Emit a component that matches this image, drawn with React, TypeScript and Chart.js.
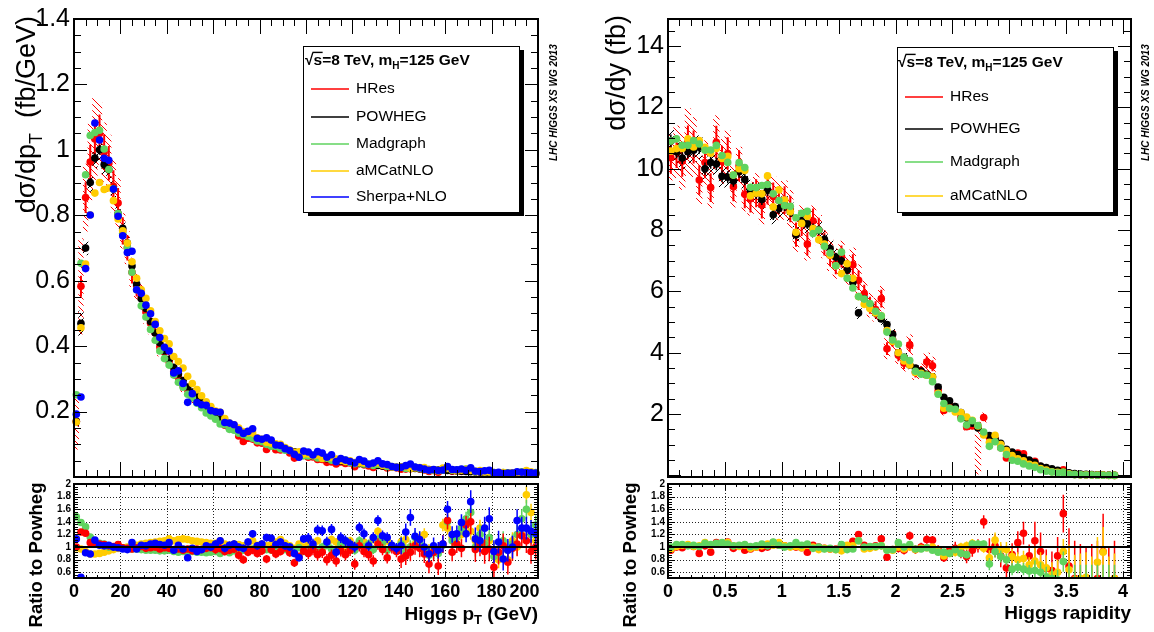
import React, { useEffect, useRef } from 'react';
import { Chart, registerables } from 'chart.js';

Chart.register(...registerables);

const W = 1154;
const H = 632;
const F = '"Liberation Sans", Arial, Helvetica, sans-serif';
const AXIS_W = 74;

// ---------- colours ----------
const C_HRES = '#ff0000';
const C_POWHEG = '#000000';
const C_MAD = '#5fd35f';
const C_AMC = '#ffcc00';
const C_SHERPA = '#0000ff';

// ---------- left panel: Higgs pT (2 GeV bins) ----------
const PT_BIN_WIDTH = 2;
const PT_POWHEG = [
  0.17, 0.47, 0.70, 0.90, 0.975, 1.00, 0.955, 0.94, 0.88, 0.805,
  0.76, 0.715, 0.645, 0.59, 0.545, 0.515, 0.475, 0.44, 0.41, 0.385,
  0.36, 0.335, 0.315, 0.295, 0.275, 0.26, 0.245, 0.23, 0.215, 0.203,
  0.19, 0.18, 0.17, 0.16, 0.152, 0.144, 0.136, 0.129, 0.122, 0.116,
  0.11, 0.104, 0.099, 0.094, 0.089, 0.085, 0.081, 0.077, 0.073, 0.07,
  0.067, 0.064, 0.061, 0.058, 0.056, 0.053, 0.051, 0.049, 0.047, 0.045,
  0.043, 0.041, 0.04, 0.038, 0.037, 0.035, 0.034, 0.033, 0.031, 0.03,
  0.029, 0.028, 0.027, 0.026, 0.025, 0.024, 0.023, 0.022, 0.021, 0.0205,
  0.02, 0.019, 0.0183, 0.0176, 0.017, 0.0163, 0.0157, 0.0151, 0.0146, 0.014,
  0.0135, 0.013, 0.0126, 0.0122, 0.0118, 0.0114, 0.011, 0.0106, 0.0103, 0.01,
];
const PT_RATIO_HRES = [
  1.0, 1.24, 1.22, 1.07, 1.06, 1.05, 1.04, 1.02, 1.01, 1.04,
  0.99, 0.98, 0.97, 0.99, 1.01, 0.98, 0.99, 1.0, 0.97, 0.99,
  0.98, 0.96, 0.97, 0.95, 0.97, 0.94, 0.97, 0.96, 0.98, 0.99,
  0.96, 0.98, 0.93, 0.95, 0.97, 0.87, 0.80, 0.92, 0.95, 0.90,
  0.94, 0.81, 0.96, 0.89, 0.93, 0.99, 0.91, 0.75, 0.85, 0.94,
  0.90, 0.96, 0.88, 0.92, 0.80, 0.87, 0.78, 0.94, 0.88, 0.95,
  0.73, 1.02, 0.93, 0.88, 0.78, 1.05, 0.96, 0.83, 0.99, 0.93,
  0.81, 0.86, 0.92, 1.02, 0.98, 0.89, 0.73, 0.92, 0.70, 1.05,
  1.42, 0.92, 1.05, 0.98, 1.35, 1.40, 0.96, 1.05, 0.93, 0.97,
  0.68, 0.92, 1.02, 0.76, 0.98, 1.05, 1.18, 1.10, 0.93, 1.0,
];
const PT_RATIO_MADGRAPH = [
  1.48, 1.39, 1.32, 1.16, 1.08, 1.06, 1.05, 1.0, 1.0, 1.0,
  0.98, 0.98, 0.97, 0.97, 0.96, 0.95, 0.95, 0.95, 0.94, 0.94,
  0.95, 0.93, 0.92, 0.93, 0.92, 0.93, 0.92, 0.92, 0.91, 0.92,
  0.93, 0.90, 0.94, 0.91, 0.94, 0.93, 0.95, 0.96, 0.97, 0.95,
  0.98, 0.96, 0.95, 0.99, 0.97, 0.96, 1.0, 0.95, 0.99, 0.93,
  0.96, 1.02, 0.95, 1.0, 1.03, 0.97, 0.95, 1.05, 1.1, 0.98,
  0.95, 1.1, 1.0, 1.05, 0.96, 1.12, 1.08, 0.95, 1.02, 0.97,
  1.05, 0.93, 1.0, 1.15, 1.05, 0.96, 0.87, 0.92, 0.9, 1.03,
  1.4, 1.1, 1.15, 1.3, 1.45, 1.55, 1.0, 1.2, 1.05, 1.15,
  0.85, 0.9, 1.1, 0.95, 1.05, 1.2, 1.45, 1.6, 1.2, 1.35,
];
const PT_RATIO_AMCATNLO = [
  0.99, 0.97, 0.93, 0.89, 0.89, 0.90, 0.92, 0.94, 0.96, 0.98,
  0.99, 1.0, 1.02, 1.03, 1.05, 1.06, 1.07, 1.08, 1.09, 1.1,
  1.13, 1.1, 1.12, 1.13, 1.12, 1.1, 1.09, 1.08, 1.07, 1.06,
  1.06, 1.1, 1.05, 1.03, 1.05, 1.04, 1.02, 1.05, 1.1, 1.03,
  1.05, 1.02, 1.04, 1.08, 1.12, 1.06, 1.02, 0.98, 1.05, 1.0,
  1.05, 1.02, 1.1, 0.98, 1.06, 1.12, 1.08, 1.04, 1.0, 1.1,
  1.02, 1.04, 1.08, 1.0, 1.12, 1.25, 1.05, 1.1, 1.0, 0.98,
  1.08, 1.12, 1.0, 1.05, 1.15, 1.2, 0.95, 0.98, 0.95, 1.35,
  1.3, 1.15, 1.05, 1.2, 1.4, 1.25, 1.1, 1.3, 1.05, 1.1,
  0.95, 0.8, 1.05, 0.8, 1.1, 1.0, 1.2, 1.83, 1.55, 1.1,
];
const PT_RATIO_SHERPA = [
  1.13, 0.52, 0.91, 0.89, 1.11, 1.03, 1.02, 1.03, 1.0, 0.99,
  0.97, 0.96, 1.07, 0.97, 1.03, 1.02, 1.05, 1.06, 1.04, 1.03,
  1.07, 0.95, 1.03, 0.97, 0.83, 0.98, 0.93, 0.96, 1.02, 1.0,
  1.05, 1.1, 0.98, 1.03, 1.05, 1.0, 0.98, 1.08, 1.21, 1.02,
  1.05, 1.15, 1.14, 1.04, 1.08, 1.02, 1.0, 0.9, 0.83, 1.13,
  1.14, 1.05, 1.27, 1.26, 1.08, 1.28, 0.92, 1.15, 1.1, 1.05,
  1.0, 1.31, 1.21, 1.02, 1.15, 1.42, 1.18, 1.15, 1.03, 0.98,
  1.02, 1.24, 1.47, 1.17, 1.12, 1.0, 0.89, 1.02, 0.95, 1.05,
  1.6, 1.2, 1.21, 1.39, 1.21, 1.72, 1.13, 1.1, 1.3, 1.45,
  0.93, 1.08, 0.81, 0.95, 1.0, 1.42, 1.3, 1.3, 1.25, 1.22,
];
// relative uncertainties as [upper edge, value] steps
const PT_HRES_BAND = [[2, 0.5], [4, 0.25], [10, 0.12], [20, 0.09], [200, 0.07]];
const PT_POWHEG_BAND = [[4, 0.08], [20, 0.03], [200, 0.025]];
const PT_HRES_STAT = [[30, 0.055], [200, 0.05]];
const PT_POWHEG_STAT = [[200, 0.015]];
const PT_RATIO_STAT = [[20, 0.03], [60, 0.03], [100, 0.05], [140, 0.07], [170, 0.11], [200, 0.15]];

// ---------- right panel: Higgs rapidity (0.05 bins) ----------
const RAP_BIN_WIDTH = 0.05;
const RAP_POWHEG = [
  10.9, 10.55, 10.35, 10.55, 10.6, 10.7, 10.0, 10.2, 10.15, 9.75,
  9.72, 9.6, 9.9, 9.65, 9.3, 9.2, 9.0, 9.3, 8.5, 8.7,
  8.8, 8.6, 7.85, 8.3, 8.2, 8.05, 8.0, 7.7, 7.4, 7.12,
  7.0, 6.7, 6.3, 5.3, 5.75, 5.55, 5.3, 5.1, 4.92, 4.6,
  4.0, 3.85, 3.6, 3.5, 3.4, 3.3, 3.22, 2.88, 2.55, 2.43,
  2.25, 2.05, 1.87, 1.7, 1.55, 1.35, 1.3, 1.18, 1.05, 0.85,
  0.76, 0.68, 0.58, 0.5, 0.42, 0.31, 0.26, 0.22, 0.17, 0.12,
  0.09, 0.065, 0.05, 0.04, 0.03, 0.02, 0.015, 0.01, 0.005,
];
const RAP_RATIO_HRES = [
  0.95, 1.0, 0.99, 1.03, 1.01, 0.9, 1.02, 0.92, 1.07, 1.05,
  1.08, 0.98, 1.02, 0.95, 0.97, 1.0, 0.98, 1.0, 1.07, 1.03,
  1.02, 1.01, 1.0, 0.99, 0.92, 1.03, 1.0, 0.98, 0.97, 0.97,
  1.02, 1.0, 1.09, 1.2, 1.03, 1.0, 1.02, 1.13, 0.84, 0.96,
  0.98, 0.95, 1.18, 0.96, 1.0, 1.12, 1.11, 0.96, 0.83, 0.95,
  0.98, 0.93, 0.85, 0.95, 1.02, 1.4, 0.96, 1.02, 0.86, 0.67,
  0.88, 1.07, 1.22, 0.86, 1.1, 0.93, 0.66, 0.63, 0.86, 1.53,
  0.7, 0.5, 0.45, 0.4, 0.45, 0.5, 0.93, 0.4, 0.5,
];
const RAP_RATIO_MADGRAPH = [
  1.0, 1.04, 1.04, 1.02, 1.03, 1.01, 1.06, 1.04, 1.06, 1.07,
  1.05, 1.02, 1.03, 1.04, 1.01, 1.02, 1.05, 1.02, 1.08, 1.03,
  1.0, 1.02, 1.07, 1.03, 1.05, 0.98, 1.0, 0.97, 0.98, 0.96,
  1.04, 0.96, 0.97, 1.1, 1.0, 1.01, 1.01, 1.02, 0.95, 0.96,
  1.07, 1.0, 1.04, 0.97, 0.97, 0.99, 0.95, 0.92, 0.92, 0.9,
  0.96, 0.9, 0.88, 1.05, 1.05, 1.05, 0.73, 0.93, 0.85, 0.8,
  0.65, 0.68, 0.65, 0.62, 0.63, 0.6, 0.53, 0.5, 0.48, 0.77,
  0.42, 0.4, 0.4, 0.4, 0.4, 0.4, 0.4, 0.4, 0.4,
];
const RAP_RATIO_AMCATNLO = [
  0.97, 1.01, 1.03, 1.04, 1.01, 1.02, 1.07, 1.03, 1.05, 1.06,
  1.07, 1.02, 1.01, 1.03, 0.98, 1.0, 1.02, 1.05, 1.03, 1.07,
  1.02, 1.0, 1.01, 0.99, 1.03, 1.0, 0.96, 0.98, 0.97, 0.96,
  0.94, 1.03, 1.02, 1.1, 0.97, 0.98, 1.0, 1.02, 0.96, 0.95,
  1.0, 0.97, 1.0, 0.96, 0.98, 0.99, 1.0, 0.93, 0.86, 0.9,
  0.92, 1.0, 1.02, 1.06, 1.04, 0.98, 0.83, 1.11, 0.96, 0.96,
  0.85, 0.8, 0.82, 0.72, 0.78, 0.72, 0.67, 0.56, 0.6, 0.93,
  0.64, 0.48, 0.5, 0.52, 0.45, 0.76, 0.92, 0.45, 0.5,
];
const RAP_HRES_BAND_UP = [
  0.07, 0.08, 0.09, 0.1, 0.09, 0.08, 0.07, 0.07, 0.08, 0.07,
  0.07, 0.07, 0.06, 0.06, 0.06, 0.07, 0.07, 0.06, 0.07, 0.07,
  0.07, 0.07, 0.07, 0.07, 0.07, 0.06, 0.06, 0.06, 0.07, 0.07,
  0.07, 0.07, 0.08, 0.08, 0.07, 0.07, 0.07, 0.07, 0.08, 0.07,
  0.07, 0.07, 0.08, 0.07, 0.07, 0.08, 0.08, 0.07, 0.07, 0.07,
  0.07, 0.07, 0.07, 0.07, 0.1, 0.08, 0.07, 0.08, 0.08, 0.08,
  0.08, 0.08, 0.1, 0.1, 0.1, 0.1, 0.1, 0.1, 0.1, 0.12,
  0.12, 0.12, 0.12, 0.15, 0.15, 0.15, 0.15, 0.15, 0.15,
];
const RAP_HRES_BAND_DN = [
  0.07, 0.08, 0.09, 0.1, 0.09, 0.08, 0.07, 0.07, 0.08, 0.07,
  0.07, 0.07, 0.06, 0.06, 0.06, 0.07, 0.07, 0.06, 0.07, 0.07,
  0.07, 0.07, 0.07, 0.07, 0.07, 0.06, 0.06, 0.06, 0.07, 0.07,
  0.07, 0.07, 0.08, 0.08, 0.07, 0.07, 0.07, 0.07, 0.08, 0.07,
  0.07, 0.07, 0.08, 0.07, 0.07, 0.08, 0.08, 0.07, 0.07, 0.07,
  0.07, 0.07, 0.07, 0.07, 0.97, 0.08, 0.07, 0.08, 0.08, 0.08,
  0.08, 0.08, 0.1, 0.1, 0.1, 0.1, 0.1, 0.1, 0.1, 0.12,
  0.12, 0.12, 0.12, 0.15, 0.15, 0.15, 0.15, 0.15, 0.15,
];
const RAP_POWHEG_BAND = [[4.1, 0.035]];
const RAP_HRES_STAT = [[4.1, 0.05]];
const RAP_POWHEG_STAT = [[4.1, 0.02]];
const RAP_RATIO_STAT = [[1.5, 0.02], [2.0, 0.03], [2.5, 0.045], [2.8, 0.07], [3.2, 0.12], [3.5, 0.2], [4.1, 0.4]];

// ---------- ticks ----------
const PT_X_TICKS = [0, 20, 40, 60, 80, 100, 120, 140, 160, 180, 200];
const PT_MAIN_Y_TICKS = [0.2, 0.4, 0.6, 0.8, 1, 1.2, 1.4];
const RAP_X_TICKS = [0, 0.5, 1, 1.5, 2, 2.5, 3, 3.5, 4];
const RAP_MAIN_Y_TICKS = [2, 4, 6, 8, 10, 12, 14];
const RATIO_Y_TICKS = [0.6, 0.8, 1, 1.2, 1.4, 1.6, 1.8, 2];

// ---------- layout ----------
const AREA_PT_MAIN = { left: 74, right: 538, top: 15, bottom: 477 };
const AREA_PT_RATIO = { left: 74, right: 538, top: 484, bottom: 578 };
const AREA_RAP_MAIN = { left: 668, right: 1131, top: 14, bottom: 477 };
const AREA_RAP_RATIO = { left: 668, right: 1131, top: 484, bottom: 578 };

// ---------- helpers ----------
function stepVal(table: number[][], x: number) {
  for (const [edge, v] of table) if (x <= edge) return v;
  return table[table.length - 1][1];
}
const fmt = (v: number) => String(Math.round(v * 100) / 100);

type Part = { t: string; f: string; dy?: number; over?: boolean };
type TextItem = { parts: Part[]; x: number; y: number; align: 'left' | 'right' | 'center'; rot?: boolean };

function drawParts(ctx: CanvasRenderingContext2D, item: TextItem) {
  ctx.save();
  ctx.translate(item.x, item.y);
  if (item.rot) ctx.rotate(-Math.PI / 2);
  ctx.fillStyle = '#000';
  ctx.textAlign = 'left';
  ctx.textBaseline = 'alphabetic';
  let total = 0;
  for (const p of item.parts) {
    ctx.font = p.f;
    total += ctx.measureText(p.t).width;
  }
  let cx = item.align === 'right' ? -total : item.align === 'center' ? -total / 2 : 0;
  for (const p of item.parts) {
    ctx.font = p.f;
    const w = ctx.measureText(p.t).width;
    ctx.fillText(p.t, cx, p.dy || 0);
    if (p.over) {
      const m = ctx.measureText('H');
      const top = -m.actualBoundingBoxAscent - 2;
      ctx.fillRect(cx - 1, top - 1.3, w + 1.5, 1.4);
    }
    cx += w;
  }
  ctx.restore();
}

function hatch(color: string, dir: 'back' | 'fwd') {
  const s = 6;
  const c = document.createElement('canvas');
  c.width = s;
  c.height = s;
  const g = c.getContext('2d')!;
  g.strokeStyle = color;
  g.lineWidth = 1;
  g.beginPath();
  for (let k = -1; k <= 1; k++) {
    if (dir === 'back') {
      g.moveTo(0, k * s);
      g.lineTo(s, s + k * s);
    } else {
      g.moveTo(0, s + k * s);
      g.lineTo(s, k * s);
    }
  }
  g.stroke();
  return g.createPattern(c, 'repeat')!;
}

// ---------- ROOT-like frame / ticks / texts plugin ----------
const rootStyle = {
  id: 'rootStyle',
  beforeDatasetsDraw(chart: any, _a: any, o: any) {
    if (!o || !o.grid) return;
    const ctx = chart.ctx;
    const { left, right, top, bottom } = chart.chartArea;
    const xs = chart.scales.x;
    const ys = chart.scales.y;
    ctx.save();
    ctx.strokeStyle = '#222';
    ctx.lineWidth = 1;
    ctx.setLineDash([1, 2]);
    ctx.beginPath();
    for (const v of o.xMajor) {
      const px = Math.round(xs.getPixelForValue(v)) + 0.5;
      if (px > left + 2 && px < right - 2) {
        ctx.moveTo(px, top);
        ctx.lineTo(px, bottom);
      }
    }
    for (const v of o.yMajor) {
      const py = Math.round(ys.getPixelForValue(v)) + 0.5;
      if (py > top + 2 && py < bottom - 2) {
        ctx.moveTo(left, py);
        ctx.lineTo(right, py);
      }
    }
    ctx.stroke();
    ctx.restore();
  },
  beforeDatasetDraw(chart: any, args: any) {
    const ds = chart.data.datasets[args.index];
    if (!ds.errors) return;
    const ctx = chart.ctx;
    const { left, right, top, bottom } = chart.chartArea;
    const xs = chart.scales.x;
    const ys = chart.scales.y;
    ctx.save();
    ctx.beginPath();
    ctx.rect(left, top, right - left, bottom - top);
    ctx.clip();
    ctx.strokeStyle = ds.borderColor;
    ctx.lineWidth = ds.errWidth || 1.5;
    ctx.beginPath();
    ds.data.forEach((pt: any, i: number) => {
      const e = ds.errors[i];
      if (!e) return;
      const px = xs.getPixelForValue(pt.x);
      ctx.moveTo(px, ys.getPixelForValue(pt.y - e));
      ctx.lineTo(px, ys.getPixelForValue(pt.y + e));
    });
    ctx.stroke();
    ctx.restore();
  },
  afterDatasetsDraw(chart: any, _a: any, o: any) {
    if (!o) return;
    const ctx = chart.ctx;
    const { left, right, top, bottom } = chart.chartArea;
    const xs = chart.scales.x;
    const ys = chart.scales.y;
    ctx.save();
    if (o.refLine != null) {
      const py = ys.getPixelForValue(o.refLine);
      ctx.strokeStyle = '#000';
      ctx.lineWidth = 2;
      ctx.beginPath();
      ctx.moveTo(left, py);
      ctx.lineTo(right, py);
      ctx.stroke();
    }
    ctx.strokeStyle = '#000';
    ctx.lineWidth = 1;
    ctx.beginPath();
    const xTick = (v: number, len: number) => {
      const px = Math.round(xs.getPixelForValue(v)) + 0.5;
      if (px < left - 0.5 || px > right + 0.5) return;
      ctx.moveTo(px, bottom);
      ctx.lineTo(px, bottom - len);
      ctx.moveTo(px, top);
      ctx.lineTo(px, top + len);
    };
    const yTick = (v: number, len: number) => {
      const py = Math.round(ys.getPixelForValue(v)) + 0.5;
      if (py < top - 0.5 || py > bottom + 0.5) return;
      ctx.moveTo(left, py);
      ctx.lineTo(left + len, py);
      ctx.moveTo(right, py);
      ctx.lineTo(right - len, py);
    };
    const minors = (min: number, max: number, step: number, fn: (v: number) => void) => {
      const n0 = Math.ceil(min / step - 1e-6);
      const n1 = Math.floor(max / step + 1e-6);
      for (let n = n0; n <= n1; n++) fn(n * step);
    };
    minors(xs.min, xs.max, o.xMinor, (v) => xTick(v, o.xLen[1]));
    o.xMajor.forEach((v: number) => xTick(v, o.xLen[0]));
    minors(ys.min, ys.max, o.yMinor, (v) => yTick(v, o.yLen[1]));
    o.yMajor.forEach((v: number) => yTick(v, o.yLen[0]));
    ctx.stroke();
    ctx.lineWidth = 2;
    ctx.strokeRect(left, top, right - left, bottom - top);
    ctx.restore();
  },
  afterDraw(chart: any, _a: any, o: any) {
    if (!o) return;
    const ctx = chart.ctx;
    (o.texts || []).forEach((t: TextItem) => drawParts(ctx, t));
    const L = o.legend;
    if (L) {
      const [x, y, w, h] = L.box;
      ctx.save();
      ctx.fillStyle = '#000';
      ctx.fillRect(x + 5, y + 4, w, h);
      ctx.fillStyle = '#fff';
      ctx.fillRect(x, y, w, h);
      ctx.strokeStyle = '#000';
      ctx.lineWidth = 1;
      ctx.strokeRect(x + 0.5, y + 0.5, w, h);
      drawParts(ctx, L.header);
      const items = chart.data.datasets
        .filter((d: any) => d.legendRow != null)
        .sort((a: any, b: any) => a.legendRow - b.legendRow);
      items.forEach((d: any, i: number) => {
        const ry = L.rows[i];
        ctx.strokeStyle = d.borderColor;
        ctx.lineWidth = 1.5;
        ctx.beginPath();
        ctx.moveTo(L.lineX[0], ry);
        ctx.lineTo(L.lineX[1], ry);
        ctx.stroke();
        ctx.fillStyle = '#000';
        ctx.font = L.font;
        ctx.textAlign = 'left';
        ctx.textBaseline = 'middle';
        ctx.fillText(d.label, L.textX, ry);
      });
      ctx.restore();
    }
  },
};

// ---------- chart config builder ----------
function buildConfig(o: any) {
  const a = o.area;
  return {
    type: 'scatter',
    data: { datasets: o.datasets },
    options: {
      responsive: false,
      animation: false,
      events: [],
      layout: {
        padding: {
          left: a.left - AXIS_W,
          right: W - a.right,
          top: a.top,
          bottom: o.showX ? 0 : H - a.bottom,
        },
      },
      plugins: { legend: { display: false }, tooltip: { enabled: false }, rootStyle: o.style },
      scales: {
        x: {
          type: 'linear',
          min: o.xMin,
          max: o.xMax,
          offset: false,
          display: o.showX,
          grid: { display: false, drawTicks: false, offset: false },
          border: { display: false },
          afterBuildTicks: (s: any) => {
            s.ticks = o.xTicks.map((v: number) => ({ value: v }));
          },
          ticks: {
            font: o.xFont,
            color: '#000',
            padding: o.xPad || 0,
            autoSkip: false,
            maxRotation: 0,
            // the last label is pulled inside the frame, as ROOT does at the pad edge
            callback: (v: number) => (o.xPullLast && v === o.xMax_label ? fmt(v) + '\u2002\u2002\u2002' : fmt(v)),
          },
          afterFit: (s: any) => {
            s.height = o.showX ? H - a.bottom : 0;
          },
        },
        y: {
          type: 'linear',
          min: o.yMin,
          max: o.yMax,
          grid: { display: false, drawTicks: false },
          border: { display: false },
          afterBuildTicks: (s: any) => {
            s.ticks = o.yTicks.map((v: number) => ({ value: v }));
          },
          ticks: {
            font: o.yFont,
            color: '#000',
            padding: o.yPad,
            autoSkip: false,
            callback: (v: number) => fmt(v),
          },
          afterFit: (s: any) => {
            s.width = AXIS_W;
          },
        },
      },
    },
    plugins: [rootStyle],
  };
}

function pointSet(label: string, color: string, xs: number[], ys: number[], extra: any) {
  return {
    type: 'scatter',
    label,
    data: ys.map((v, i) => ({ x: xs[i], y: v })),
    backgroundColor: color,
    borderColor: color,
    pointRadius: 3.8,
    pointHoverRadius: 3.8,
    pointBorderWidth: 0,
    showLine: false,
    ...extra,
  };
}

function bandSet(label: string, pattern: CanvasPattern, xs: number[], lo: number[], hi: number[], order: number) {
  return {
    type: 'bar',
    label,
    data: xs.map((x, i) => ({ x, y: [lo[i], hi[i]] })),
    backgroundColor: pattern,
    borderWidth: 0,
    barPercentage: 1,
    categoryPercentage: 1,
    grouped: false,
    order,
    clip: 0,
  };
}

function legendHeader(x: number, y: number): TextItem {
  const hf = `bold 15.5px ${F}`;
  const sf = `bold 10px ${F}`;
  return {
    x,
    y,
    align: 'left',
    parts: [
      { t: '√', f: hf },
      { t: 's', f: hf, over: true },
      { t: '=8 TeV, m', f: hf },
      { t: 'H', f: sf, dy: 4 },
      { t: '=125 GeV', f: hf },
    ],
  };
}

const LHC_FONT = `italic bold 10px ${F}`;
const MAIN_TICK_FONT = { family: F, size: 25 };
const RATIO_Y_FONT = { family: F, size: 10, weight: 'bold' as const };
const RATIO_X_FONT = { family: F, size: 18, weight: 'bold' as const };
const XTITLE_FONT = `bold 19px ${F}`;
const RTITLE_FONT = `bold 18.5px ${F}`;

function ptConfigs(red: CanvasPattern, blk: CanvasPattern) {
  const xs = PT_POWHEG.map((_, i) => (i + 0.5) * PT_BIN_WIDTH);
  const hres = PT_POWHEG.map((v, i) => v * PT_RATIO_HRES[i]);
  const mad = PT_POWHEG.map((v, i) => v * PT_RATIO_MADGRAPH[i]);
  const amc = PT_POWHEG.map((v, i) => v * PT_RATIO_AMCATNLO[i]);
  const sh = PT_POWHEG.map((v, i) => v * PT_RATIO_SHERPA[i]);
  const hb = xs.map((x) => stepVal(PT_HRES_BAND, x));
  const pb = xs.map((x) => stepVal(PT_POWHEG_BAND, x));
  const main = buildConfig({
    area: AREA_PT_MAIN,
    xMin: 0,
    xMax: 200,
    yMin: 0,
    yMax: 1.4,
    xTicks: PT_X_TICKS,
    yTicks: PT_MAIN_Y_TICKS,
    showX: false,
    yFont: MAIN_TICK_FONT,
    yPad: 4,
    datasets: [
      bandSet('HRes unc.', red, xs, hres.map((v, i) => v * (1 - hb[i])), hres.map((v, i) => v * (1 + hb[i])), 20),
      bandSet('POWHEG unc.', blk, xs, PT_POWHEG.map((v, i) => v * (1 - pb[i])), PT_POWHEG.map((v, i) => v * (1 + pb[i])), 19),
      pointSet('HRes', C_HRES, xs, hres, {
        order: 6, legendRow: 0, errWidth: 2, clip: 4,
        errors: hres.map((v, i) => v * stepVal(PT_HRES_STAT, xs[i])),
      }),
      pointSet('POWHEG', C_POWHEG, xs, PT_POWHEG, {
        order: 5, legendRow: 1, errWidth: 1.5, clip: 4,
        errors: PT_POWHEG.map((v, i) => v * stepVal(PT_POWHEG_STAT, xs[i])),
      }),
      pointSet('Madgraph', C_MAD, xs, mad, { order: 4, legendRow: 2, clip: 4 }),
      pointSet('aMCatNLO', C_AMC, xs, amc, { order: 3, legendRow: 3, clip: 4 }),
      pointSet('Sherpa+NLO', C_SHERPA, xs, sh, { order: 2, legendRow: 4, clip: 4 }),
    ],
    style: {
      xMajor: PT_X_TICKS, xMinor: 5, xLen: [15, 7],
      yMajor: [0, ...PT_MAIN_Y_TICKS], yMinor: 0.05, yLen: [13, 7],
      grid: false, refLine: null,
      texts: [
        {
          x: 35, y: 16, align: 'right', rot: true,
          parts: [
            { t: 'dσ/dp', f: `27px ${F}` },
            { t: 'T', f: `18px ${F}`, dy: 7 },
            { t: '  (fb/GeV)', f: `27px ${F}` },
          ],
        },
        { x: 557, y: 161, align: 'left', rot: true, parts: [{ t: 'LHC HIGGS XS WG 2013', f: LHC_FONT }] },
      ],
      legend: {
        box: [303, 46, 216, 166],
        header: legendHeader(305, 65),
        rows: [89, 117, 144, 171, 197],
        lineX: [311, 349],
        textX: 356,
        font: `15.5px ${F}`,
      },
    },
  });
  const rs = (mult: number) => xs.map((x) => stepVal(PT_RATIO_STAT, x) * mult);
  const ratio = buildConfig({
    area: AREA_PT_RATIO,
    xMin: 0,
    xMax: 200,
    yMin: 0.51,
    yMax: 2.0,
    xTicks: PT_X_TICKS,
    xPullLast: true,
    xMax_label: 200,
    yTicks: RATIO_Y_TICKS,
    showX: true,
    xFont: RATIO_X_FONT,
    xPad: 3,
    yFont: RATIO_Y_FONT,
    yPad: 3,
    datasets: [
      pointSet('aMCatNLO', C_AMC, xs, PT_RATIO_AMCATNLO, { order: 5, clip: 0, errors: rs(0.9) }),
      pointSet('Madgraph', C_MAD, xs, PT_RATIO_MADGRAPH, { order: 4, clip: 0, errors: rs(1.0) }),
      pointSet('HRes', C_HRES, xs, PT_RATIO_HRES, { order: 3, clip: 0, errors: rs(1.3) }),
      pointSet('Sherpa+NLO', C_SHERPA, xs, PT_RATIO_SHERPA, { order: 2, clip: 0, errors: rs(1.2) }),
    ],
    style: {
      xMajor: PT_X_TICKS, xMinor: 5, xLen: [6, 3],
      yMajor: RATIO_Y_TICKS, yMinor: 0.04, yLen: [7, 4],
      grid: true, refLine: 1,
      texts: [
        { x: 42, y: 555, align: 'center', rot: true, parts: [{ t: 'Ratio to Powheg', f: RTITLE_FONT }] },
        {
          x: 538, y: 620, align: 'right',
          parts: [
            { t: 'Higgs p', f: XTITLE_FONT },
            { t: 'T', f: `bold 13px ${F}`, dy: 4 },
            { t: ' (GeV)', f: XTITLE_FONT },
          ],
        },
      ],
    },
  });
  return [main, ratio];
}

function rapConfigs(red: CanvasPattern, blk: CanvasPattern) {
  const xs = RAP_POWHEG.map((_, i) => (i + 0.5) * RAP_BIN_WIDTH);
  const hres = RAP_POWHEG.map((v, i) => v * RAP_RATIO_HRES[i]);
  const mad = RAP_POWHEG.map((v, i) => v * RAP_RATIO_MADGRAPH[i]);
  const amc = RAP_POWHEG.map((v, i) => v * RAP_RATIO_AMCATNLO[i]);
  const pb = xs.map((x) => stepVal(RAP_POWHEG_BAND, x));
  const main = buildConfig({
    area: AREA_RAP_MAIN,
    xMin: 0,
    xMax: 4.07,
    yMin: -0.05,
    yMax: 14.88,
    xTicks: RAP_X_TICKS,
    yTicks: RAP_MAIN_Y_TICKS,
    showX: false,
    yFont: MAIN_TICK_FONT,
    yPad: 4,
    datasets: [
      bandSet('HRes unc.', red, xs, hres.map((v, i) => v * (1 - RAP_HRES_BAND_DN[i])), hres.map((v, i) => v * (1 + RAP_HRES_BAND_UP[i])), 20),
      bandSet('POWHEG unc.', blk, xs, RAP_POWHEG.map((v, i) => v * (1 - pb[i])), RAP_POWHEG.map((v, i) => v * (1 + pb[i])), 19),
      pointSet('HRes', C_HRES, xs, hres, {
        order: 6, legendRow: 0, errWidth: 2, clip: 4,
        errors: hres.map((v, i) => v * stepVal(RAP_HRES_STAT, xs[i])),
      }),
      pointSet('POWHEG', C_POWHEG, xs, RAP_POWHEG, {
        order: 5, legendRow: 1, errWidth: 1.5, clip: 4,
        errors: RAP_POWHEG.map((v, i) => v * stepVal(RAP_POWHEG_STAT, xs[i])),
      }),
      pointSet('Madgraph', C_MAD, xs, mad, { order: 2, legendRow: 2, clip: 4 }),
      pointSet('aMCatNLO', C_AMC, xs, amc, { order: 3, legendRow: 3, clip: 4 }),
    ],
    style: {
      xMajor: RAP_X_TICKS, xMinor: 0.1, xLen: [15, 7],
      yMajor: [0, ...RAP_MAIN_Y_TICKS], yMinor: 0.5, yLen: [13, 7],
      grid: false, refLine: null,
      texts: [
        { x: 625, y: 15, align: 'right', rot: true, parts: [{ t: 'dσ/dy (fb)', f: `27px ${F}` }] },
        { x: 1149, y: 161, align: 'left', rot: true, parts: [{ t: 'LHC HIGGS XS WG 2013', f: LHC_FONT }] },
      ],
      legend: {
        box: [897, 47, 216, 165],
        header: legendHeader(898, 67),
        rows: [97, 129, 162, 196],
        lineX: [905, 943],
        textX: 950,
        font: `15.5px ${F}`,
      },
    },
  });
  const rs = (mult: number) => xs.map((x) => stepVal(RAP_RATIO_STAT, x) * mult);
  const ratio = buildConfig({
    area: AREA_RAP_RATIO,
    xMin: 0,
    xMax: 4.07,
    yMin: 0.51,
    yMax: 2.0,
    xTicks: RAP_X_TICKS,
    yTicks: RATIO_Y_TICKS,
    showX: true,
    xFont: RATIO_X_FONT,
    xPad: 3,
    yFont: RATIO_Y_FONT,
    yPad: 3,
    datasets: [
      pointSet('HRes', C_HRES, xs, RAP_RATIO_HRES, { order: 4, clip: 0, errors: rs(1.5) }),
      pointSet('aMCatNLO', C_AMC, xs, RAP_RATIO_AMCATNLO, { order: 3, clip: 0, errors: rs(1.0) }),
      pointSet('Madgraph', C_MAD, xs, RAP_RATIO_MADGRAPH, { order: 2, clip: 0, errors: rs(0.8) }),
    ],
    style: {
      xMajor: RAP_X_TICKS, xMinor: 0.1, xLen: [6, 3],
      yMajor: RATIO_Y_TICKS, yMinor: 0.04, yLen: [7, 4],
      grid: true, refLine: 1,
      texts: [
        { x: 636, y: 555, align: 'center', rot: true, parts: [{ t: 'Ratio to Powheg', f: RTITLE_FONT }] },
        { x: 1131, y: 619, align: 'right', parts: [{ t: 'Higgs rapidity', f: XTITLE_FONT }] },
      ],
    },
  });
  return [main, ratio];
}

export default function App() {
  const r1 = useRef<HTMLCanvasElement>(null);
  const r2 = useRef<HTMLCanvasElement>(null);
  const r3 = useRef<HTMLCanvasElement>(null);
  const r4 = useRef<HTMLCanvasElement>(null);

  useEffect(() => {
    const red = hatch('#ff0000', 'back');
    const blk = hatch('#000000', 'fwd');
    const [ptMain, ptRatio] = ptConfigs(red, blk);
    const [rapMain, rapRatio] = rapConfigs(red, blk);
    const charts = [
      new Chart(r1.current as HTMLCanvasElement, ptMain as any),
      new Chart(r2.current as HTMLCanvasElement, ptRatio as any),
      new Chart(r3.current as HTMLCanvasElement, rapMain as any),
      new Chart(r4.current as HTMLCanvasElement, rapRatio as any),
    ];
    return () => charts.forEach((c) => c.destroy());
  }, []);

  const cs: React.CSSProperties = { position: 'absolute', left: 0, top: 0, width: W, height: H };
  return (
    <div style={{ position: 'fixed', left: 0, top: 0, width: W, height: H, background: '#fff', overflow: 'hidden' }}>
      <canvas ref={r1} width={W} height={H} style={cs} />
      <canvas ref={r2} width={W} height={H} style={cs} />
      <canvas ref={r3} width={W} height={H} style={cs} />
      <canvas ref={r4} width={W} height={H} style={cs} />
    </div>
  );
}
